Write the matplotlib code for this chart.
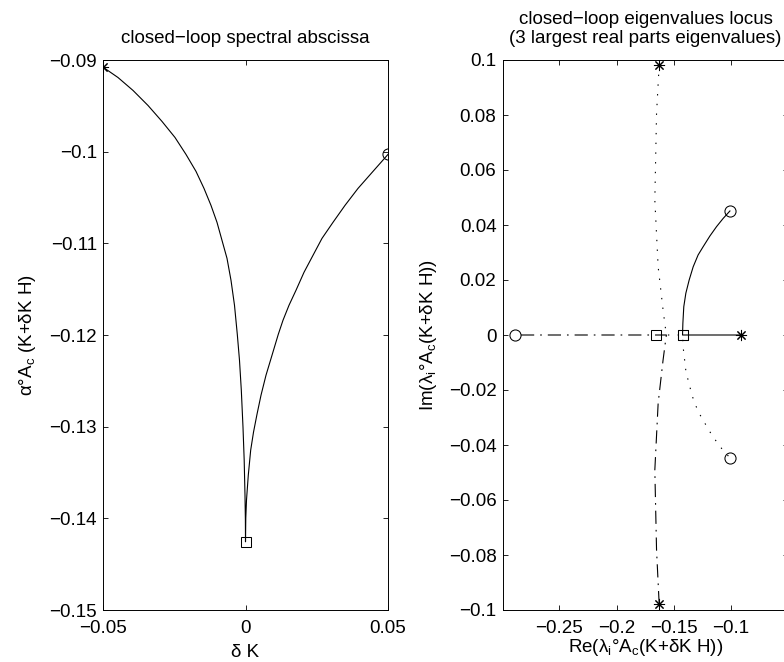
import matplotlib.pyplot as plt
import numpy as np

plt.rcParams['font.family'] = ['Liberation Sans', 'DejaVu Sans']
plt.rcParams['font.size'] = 13.5
plt.rcParams['mathtext.fontset'] = 'custom'
plt.rcParams['mathtext.rm'] = 'Liberation Sans'
plt.rcParams['mathtext.default'] = 'regular'
plt.rcParams['lines.scale_dashes'] = False

# spectral abscissa vs delta K
dK = [-0.05, -0.04474, -0.03947, -0.03421, -0.0293, -0.02474, -0.02088, -0.01737,
      -0.01456, -0.01211, -0.0100, -0.00825, -0.00649, -0.00509, -0.00386, -0.00288,
      -0.00211, -0.00147, -0.00088, -0.00046, -0.00018, -0.00004, 0.0,
      0.0001, 0.00035, 0.00098, 0.00182, 0.00281, 0.00404, 0.00544, 0.00719,
      0.0093, 0.01151, 0.01316, 0.01526, 0.01772, 0.02053, 0.02368, 0.02684,
      0.0307, 0.03491, 0.03947, 0.04474, 0.05]
alpha = [-0.09078, -0.09191, -0.09332, -0.09496, -0.0967, -0.09845, -0.1003, -0.10215,
         -0.10401, -0.10586, -0.10771, -0.10967, -0.11164, -0.11403, -0.11676, -0.11992,
         -0.12275, -0.12602, -0.13005, -0.13365, -0.13747, -0.14019, -0.14256,
         -0.13998, -0.13801, -0.13529, -0.13256, -0.1306, -0.12864, -0.12657, -0.12439,
         -0.12221, -0.11992, -0.11839, -0.11676, -0.11512, -0.11316, -0.11131, -0.10946,
         -0.10771, -0.10586, -0.10401, -0.10215, -0.1003]
i_zero = 22

# eigenvalue loci (real part, imag part)
re1 = [-0.0913, -0.1100, -0.1300, -0.1424, -0.1421, -0.1413, -0.1395, -0.1366, -0.1331,
       -0.1288, -0.1244, -0.1185, -0.1127, -0.1069, -0.1010]
im1 = [0.0, 0.0, 0.0, 0.0, 0.0043, 0.0103, 0.0152, 0.0200, 0.0248,
       0.0291, 0.0321, 0.0360, 0.0394, 0.0424, 0.0451]
sq1 = 3

re2 = [-0.1628, -0.1651, -0.1666, -0.1637, -0.1594, -0.1575, -0.1565, -0.1500, -0.1424,
       -0.1419, -0.1395, -0.1366, -0.1331, -0.1288, -0.1244, -0.1185, -0.1127, -0.1069, -0.1006]
im2 = [0.0982, 0.0806, 0.0491, 0.0248, 0.0091, 0.0030, 0.0, 0.0, 0.0,
       -0.0043, -0.0130, -0.0180, -0.0232, -0.0278, -0.0310, -0.0352, -0.0388, -0.0420, -0.0448]
sq2 = 8

re3 = [-0.1628, -0.1651, -0.1666, -0.1637, -0.1594, -0.1575, -0.1565, -0.1660, -0.2200, -0.2887]
im3 = [-0.0979, -0.0782, -0.0491, -0.0248, -0.0091, -0.0030, 0.0, 0.0, 0.0, 0.0]
sq3 = 7

dotted = (0, (1.0, 6.0))
dashdot = (0, (9.5, 4.3, 1.2, 4.3))
star = (8, 2, 0)
mk = dict(color='k', mfc='none', mec='k', mew=0.75, linestyle='none')

fig = plt.figure(figsize=(7.84, 6.62), dpi=100)

def style(ax):
    ax.tick_params(direction='in', length=3.6, width=0.6, top=True, right=True,
                   pad=4.5, labelsize=13.5)
    ax.tick_params(axis='x', pad=7)
    for s in ax.spines.values():
        s.set_linewidth(0.7)

# left panel
ax1 = fig.add_axes([103 / 784, 52 / 662, 285 / 784, 550 / 662])
ax1.plot(dK, alpha, color='k', lw=0.8)
ax1.plot(dK[0], alpha[0], marker=star, ms=8, **mk)
ax1.plot(dK[i_zero], alpha[i_zero], marker='s', ms=7, **mk)
ax1.plot(dK[-1], alpha[-1], marker='o', ms=8, **mk)
ax1.set_xlim(-0.05, 0.05)
ax1.set_ylim(-0.15, -0.09)
ax1.set_xticks([-0.05, 0, 0.05])
ax1.set_xticklabels(['\u22120.05', '0', '0.05'])
yt1 = [-0.15, -0.14, -0.13, -0.12, -0.11, -0.1, -0.09]
ax1.set_yticks(yt1)
ax1.set_yticklabels(['\u2212%g' % abs(v) for v in yt1])
ax1.set_title('closed\u2212loop spectral abscissa', fontsize=13.5, pad=12)
ax1.set_xlabel('\u03b4 K', labelpad=5)
ax1.set_ylabel('\u03b1\u00b0A$_c$ (K+\u03b4K H)', labelpad=8)
style(ax1)

# right panel
ax2 = fig.add_axes([502.7 / 784, 52 / 662, 285.6 / 784, 550 / 662])
ax2.plot(re1, im1, color='k', lw=0.8)
ax2.plot(re2, im2, color='k', lw=0.8, linestyle=dotted)
ax2.plot(re3, im3, color='k', lw=0.8, linestyle=dashdot)
for re, im, sq in [(re1, im1, sq1), (re2, im2, sq2), (re3, im3, sq3)]:
    ax2.plot(re[0], im[0], marker=star, ms=8, **mk)
    ax2.plot(re[sq], im[sq], marker='s', ms=7, **mk)
    ax2.plot(re[-1], im[-1], marker='o', ms=8, **mk)
ax2.set_xlim(-0.2995, -0.05)
ax2.set_ylim(-0.1, 0.1)
xt2 = [-0.25, -0.2, -0.15, -0.1]
ax2.set_xticks(xt2)
ax2.set_xticklabels(['\u2212%g' % abs(v) for v in xt2])
yt2 = [-0.1, -0.08, -0.06, -0.04, -0.02, 0, 0.02, 0.04, 0.06, 0.08, 0.1]
ax2.set_yticks(yt2)
ax2.set_yticklabels(['0' if v == 0 else ('\u2212%g' % abs(v) if v < 0 else '%g' % v) for v in yt2])
ax2.set_title('closed\u2212loop eigenvalues locus\n(3 largest real parts eigenvalues)',
              fontsize=13.5, pad=12, linespacing=1.2)
ax2.set_xlabel('Re(\u03bb$_i$\u00b0A$_c$(K+\u03b4K H))', labelpad=0.5)
ax2.set_ylabel('Im(\u03bb$_i$\u00b0A$_c$(K+\u03b4K H))', labelpad=7)
style(ax2)

fig.savefig('out.png', dpi=100)
